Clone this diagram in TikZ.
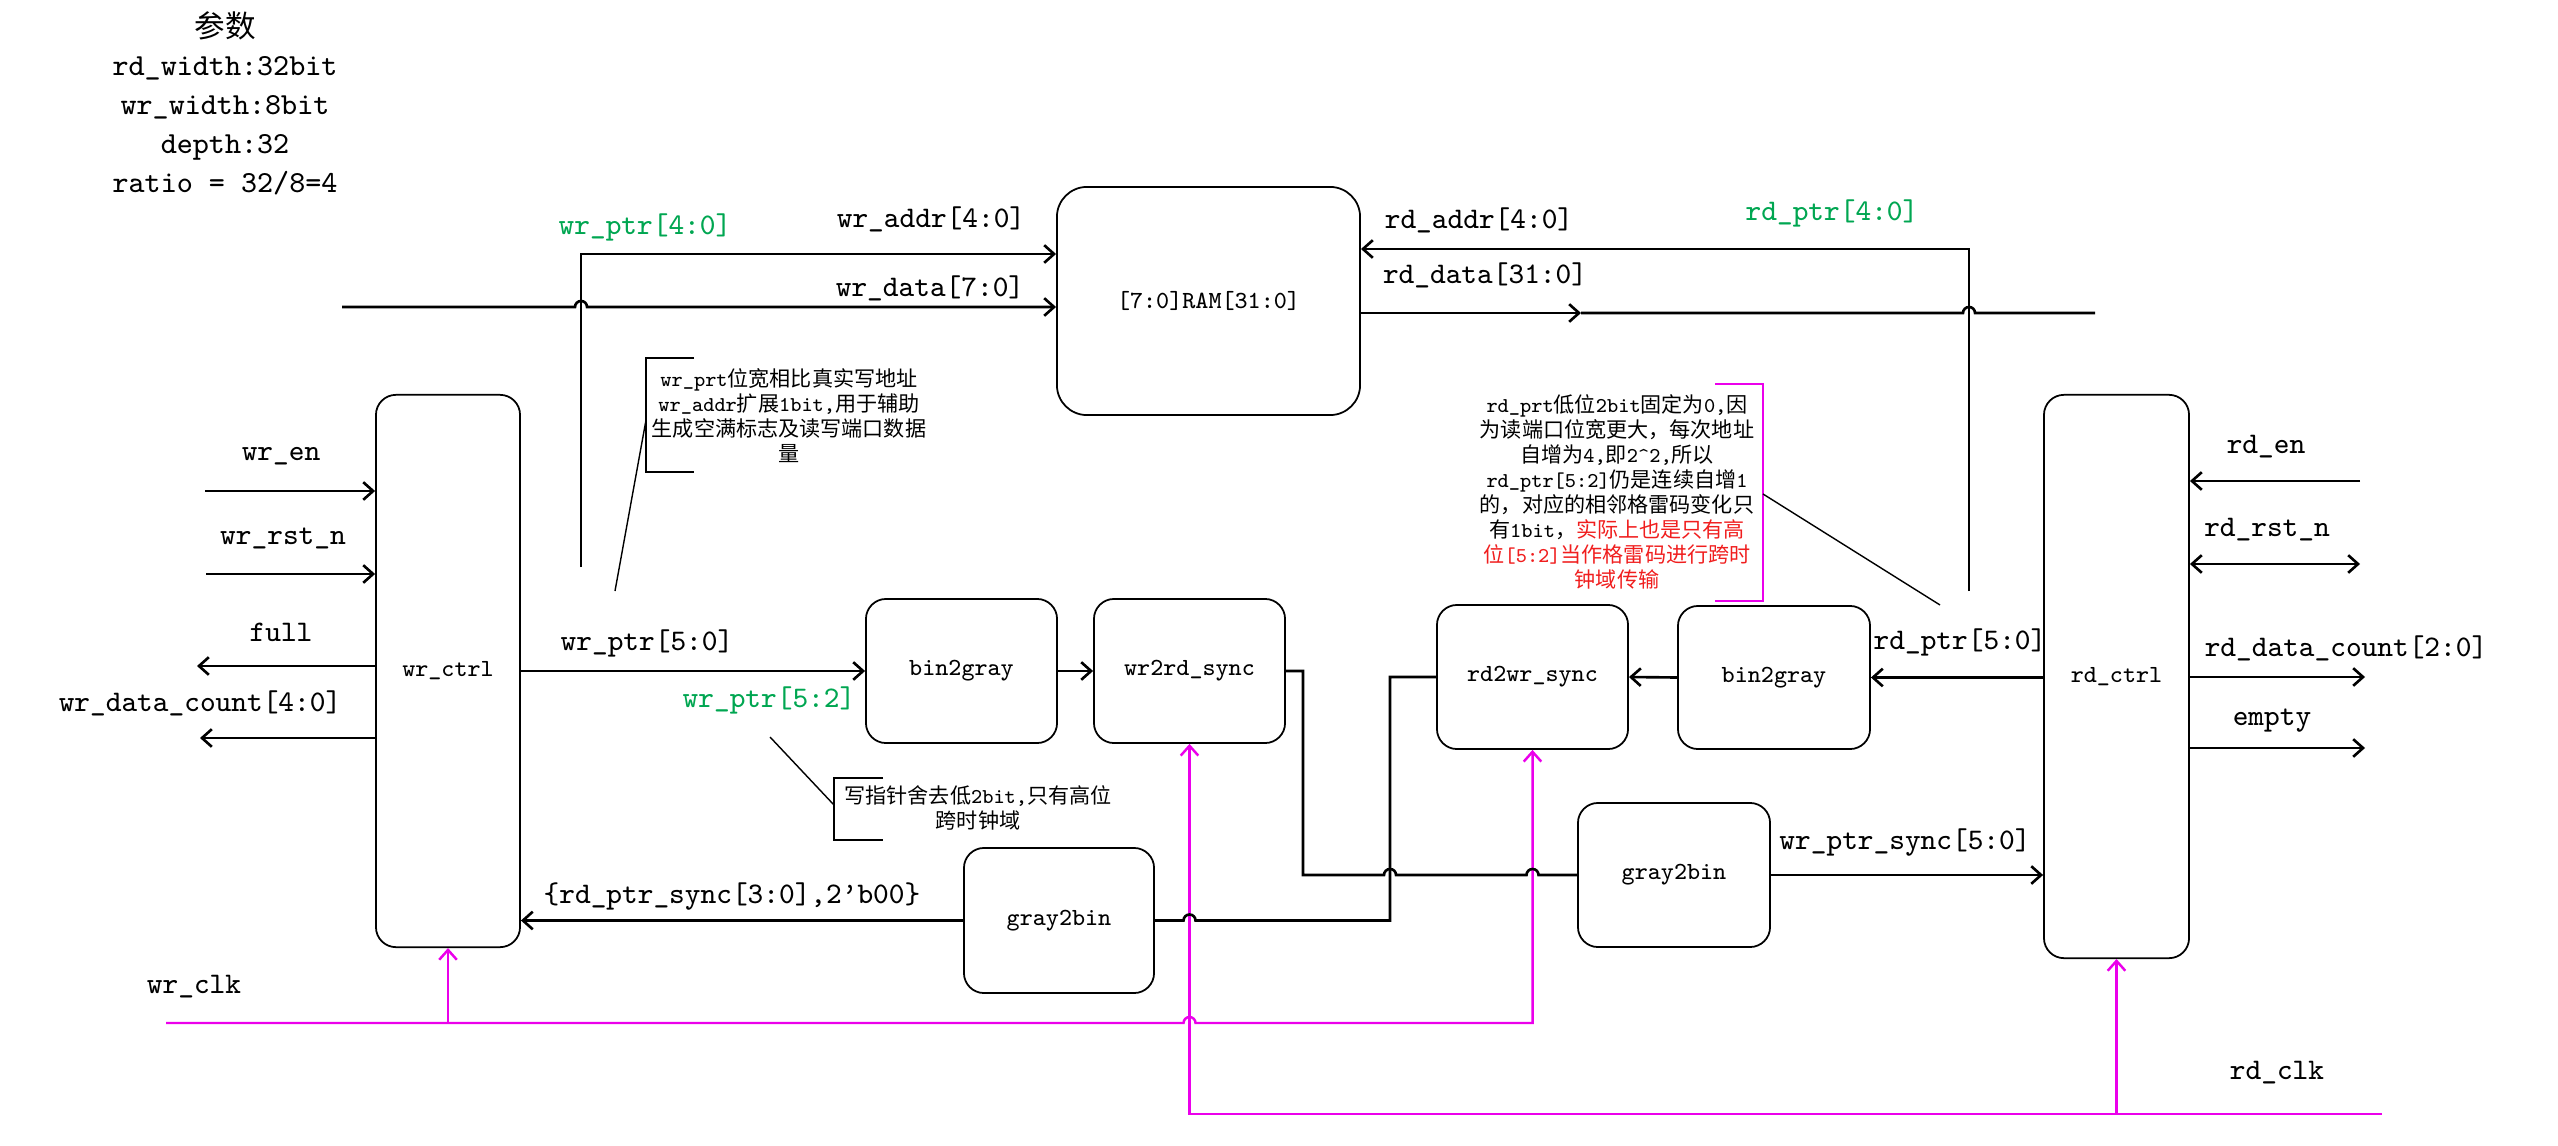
\documentclass[tikz,border=0pt]{standalone}
\usepackage{fontspec}
\newfontfamily\cjk{Noto Sans CJK SC}
\usetikzlibrary{arrows.meta}
\definecolor{sigg}{RGB}{0,166,81}
\definecolor{clkc}{RGB}{235,0,235}
\definecolor{redn}{RGB}{240,30,30}
\begin{document}
\begin{tikzpicture}[x=0.01cm,y=-0.01cm,
  box/.style={draw, line width=0.5pt, rounded corners=0.2cm, inner sep=0pt,
    font=\fontsize{7}{8}\selectfont\ttfamily},
  wire/.style={line width=0.75pt},
  clkw/.style={line width=0.7pt, draw=clkc},
  arr/.style={-{Straight Barb[length=2.8pt,width=5pt]}},
  lbl/.style={inner sep=0pt, font=\fontsize{8.5}{10}\selectfont\ttfamily},
  glbl/.style={lbl, text=sigg},
  cmt/.style={inner sep=0pt, align=center, font=\fontsize{6}{7.1}\selectfont\ttfamily},
  lead/.style={line width=0.4pt}
]
\useasboundingbox (0,0) rectangle (2558,1146);

% parameters
\node[inner sep=0pt, align=center, font=\fontsize{8.7}{11}\selectfont\ttfamily] (params) at (225,103)
  {{\cjk 参数}\\rd\_width:32bit\\wr\_width:8bit\\depth:32\\ratio = 32/8=4};

% boxes
\node[box, rounded corners=0.3cm, minimum width=3.03cm, minimum height=2.28cm] (ram) at (1208.5,301) {[7:0]RAM[31:0]};
\node[box, minimum width=1.44cm, minimum height=5.52cm] (wrctrl) at (448,671) {wr\_ctrl};
\node[box, minimum width=1.91cm, minimum height=1.44cm] (b2gL) at (961.5,671) {bin2gray};
\node[box, minimum width=1.91cm, minimum height=1.44cm] (wr2rd) at (1189.5,671) {wr2rd\_sync};
\node[box, minimum width=1.91cm, minimum height=1.44cm] (rd2wr) at (1532.5,677) {rd2wr\_sync};
\node[box, minimum width=1.92cm, minimum height=1.43cm] (b2gR) at (1774,677.5) {bin2gray};
\node[box, minimum width=1.45cm, minimum height=5.63cm] (rdctrl) at (2116.5,676.5) {rd\_ctrl};
\node[box, minimum width=1.92cm, minimum height=1.44cm] (g2bR) at (1674,875) {gray2bin};
\node[box, minimum width=1.90cm, minimum height=1.45cm] (g2bL) at (1059,920.5) {gray2bin};

% clock lines
\coordinate (wrclk) at (166,1023);
\coordinate (rdclk) at (2382,1114);
\draw[clkw,arr] (rdclk) -- (wr2rd.south |- rdclk) -- (wr2rd.south);
\draw[clkw,arr] (rdctrl.south |- rdclk) -- (rdctrl.south);
\draw[clkw,arr] (wrclk) -- (1183.5,1023) arc[start angle=180,end angle=0,radius=0.06cm]
  -- (rd2wr.south |- wrclk) -- (rd2wr.south);
\draw[clkw,arr] (wrctrl.south |- wrclk) -- (wrctrl.south);
\node[lbl] (lwrclk) at (194,987) {wr\_clk};
\node[lbl] (lrdclk) at (2277,1073) {rd\_clk};

% write side ports
\coordinate (wren) at (205,491);
\coordinate (wrrst) at (206,574);
\coordinate (full) at (197,666);
\coordinate (wrcnt) at (200,738);
\draw[wire,arr] (wren) -- (wren -| wrctrl.west);
\draw[wire,arr] (wrrst) -- (wrrst -| wrctrl.west);
\draw[wire,arr] (full -| wrctrl.west) -- (full);
\draw[wire,arr] (wrcnt -| wrctrl.west) -- (wrcnt);
\node[lbl] (lwren) at (281,456) {wr\_en};
\node[lbl] (lwrrst) at (283,538) {wr\_rst\_n};
\node[lbl] (lfull) at (281,632) {full};
\node[lbl] (lwrcnt) at (200,703) {wr\_data\_count[4:0]};

% read side ports
\coordinate (rden) at (2360,481);
\coordinate (rdrst) at (2360,564);
\coordinate (rdcnt) at (2365,677);
\coordinate (empty) at (2365,748);
\draw[wire,arr] (rden) -- (rden -| rdctrl.east);
\draw[wire,{Straight Barb[length=2.8pt,width=5pt]}-{Straight Barb[length=2.8pt,width=5pt]}] (rdrst -| rdctrl.east) -- (rdrst);
\draw[wire,arr] (rdcnt -| rdctrl.east) -- (rdcnt);
\draw[wire,arr] (empty -| rdctrl.east) -- (empty);
\node[lbl] (lrden) at (2266,447) {rd\_en};
\node[lbl] (lrdrst) at (2267,530) {rd\_rst\_n};
\node[lbl] (lrdcnt) at (2346,648) {rd\_data\_count[2:0]};
\node[lbl] (lempty) at (2272,721) {empty};

% write pointer path
\draw[wire,arr] (wrctrl.east |- b2gL.west) -- (b2gL.west);
\draw[wire,arr] (b2gL.east) -- (wr2rd.west);
\node[lbl] (lwrptr) at (647,643) {wr\_ptr[5:0]};
\node[glbl] (lwrptr52) at (769,700) {wr\_ptr[5:2]};
\draw[wire] (wr2rd.east) -- (1303,671) -- (1303,875) -- (1384,875)
  arc[start angle=180,end angle=0,radius=0.06cm] -- (1526.5,875)
  arc[start angle=180,end angle=0,radius=0.06cm] -- (g2bR.west);
\draw[wire,arr] (g2bR.east) -- (g2bR.east -| rdctrl.west);
\node[lbl] (lwrsync) at (1905,843) {wr\_ptr\_sync[5:0]};

% read pointer path
\draw[wire,arr] (rdctrl.west |- b2gR.east) -- (b2gR.east);
\draw[wire,arr] (b2gR.west) -- (rd2wr.east);
\node[lbl] (lrdptr) at (1960,642) {rd\_ptr[5:0]};
\draw[wire] (rd2wr.west) -- (1390,677) -- (1390,920.5) -- (1195.5,920.5)
  arc[start angle=0,end angle=180,radius=0.06cm] -- (g2bL.east);
\draw[wire,arr] (g2bL.west) -- (g2bL.west -| wrctrl.east);
\node[lbl] (lrdsync) at (732,897) {\{rd\_ptr\_sync[3:0],2’b00\}};

% RAM write port
\coordinate (wrptrtop) at (581,567);
\coordinate (wrc) at (581,254);
\coordinate (wrdin) at (342,307);
\draw[wire,arr] (wrptrtop) -- (wrc) -- (wrc -| ram.west);
\draw[wire,arr] (wrdin) -- (575,307) arc[start angle=180,end angle=0,radius=0.06cm] -- (wrdin -| ram.west);
\node[glbl] (lwrptr40) at (645,227) {wr\_ptr[4:0]};
\node[lbl] (lwraddr) at (931,219) {wr\_addr[4:0]};
\node[lbl] (lwrdata) at (930,288) {wr\_data[7:0]};

% RAM read port
\coordinate (rdptrtop) at (1969,591);
\coordinate (rdc) at (1969,249);
\coordinate (rdmid) at (1581,313);
\coordinate (rdout) at (2095,313);
\draw[wire,arr] (rdptrtop) -- (rdc) -- (rdc -| ram.east);
\draw[wire,arr] (rdmid -| ram.east) -- (rdmid);
\draw[wire] (rdmid) -- (1963,313) arc[start angle=180,end angle=0,radius=0.06cm] -- (rdout);
\node[lbl] (lrdaddr) at (1479,220) {rd\_addr[4:0]};
\node[glbl] (lrdptr40) at (1832,213) {rd\_ptr[4:0]};
\node[lbl] (lrddata) at (1485,275) {rd\_data[31:0]};

% comment 1
\draw[lead] (694,358) -- (646,358) -- (646,472) -- (694,472);
\draw[lead] (646,420) -- (615,591);
\node[cmt] (c1) at (789,416) {wr\_prt{\cjk 位宽相比真实写地址}\\
  wr\_addr{\cjk 扩展}1bit,{\cjk 用于辅助}\\
  {\cjk 生成空满标志及读写端口数据}\\
  {\cjk 量}};

% comment 2
\draw[lead,draw=clkc] (1715,384) -- (1763,384) -- (1763,601) -- (1715,601);
\draw[lead] (1763,494) -- (1940,605);
\node[cmt] (c2) at (1617,492) {rd\_prt{\cjk 低位}2bit{\cjk 固定为}0,{\cjk 因}\\
  {\cjk 为读端口位宽更大，每次地址}\\
  {\cjk 自增为}4,{\cjk 即}2\textasciicircum 2,{\cjk 所以}\\
  rd\_ptr[5:2]{\cjk 仍是连续自增}1\\
  {\cjk 的，对应的相邻格雷码变化只}\\
  {\cjk 有}1bit{\cjk ，}\textcolor{redn}{\cjk 实际上也是只有高}\\
  \textcolor{redn}{{\cjk 位}[5:2]{\cjk 当作格雷码进行跨时}}\\
  \textcolor{redn}{\cjk 钟域传输}};

% comment 3
\draw[lead] (883,778) -- (834,778) -- (834,840) -- (883,840);
\draw[lead] (834,805) -- (770,737);
\node[cmt] (c3) at (978,808) {{\cjk 写指针舍去低}2bit,{\cjk 只有高位}\\
  {\cjk 跨时钟域}};
\end{tikzpicture}
\end{document}
